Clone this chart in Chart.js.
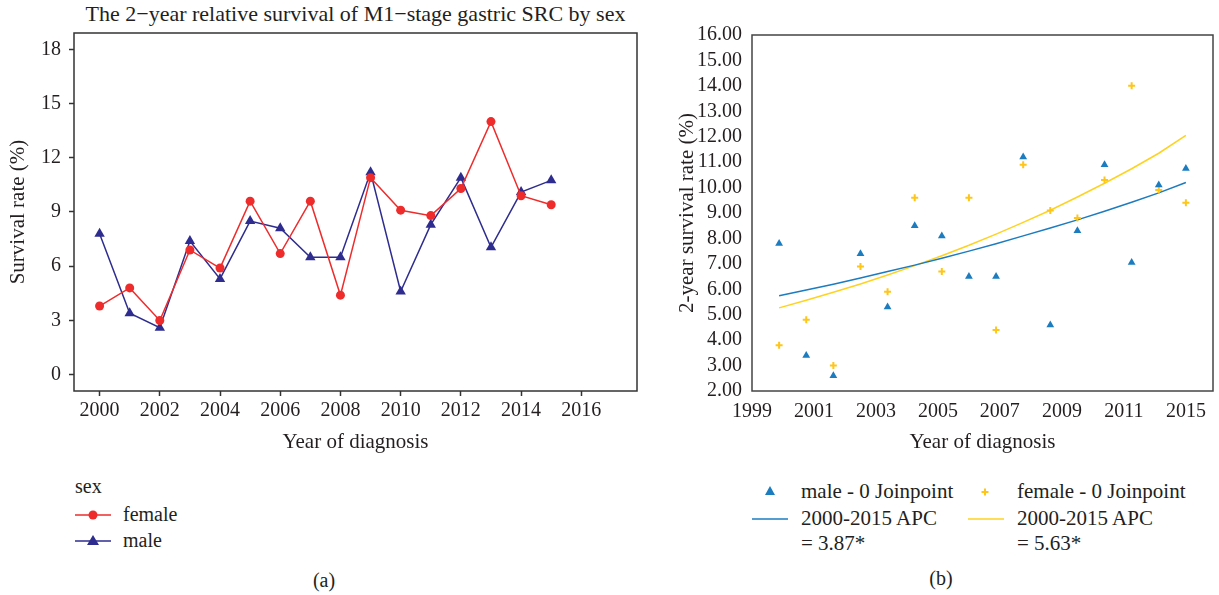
<!DOCTYPE html>
<html lang="en">
  <head>
    <meta charset="UTF-8" />
    <title>2-year relative survival of M1-stage gastric SRC by sex</title>
    <script src="https://cdn.jsdelivr.net/npm/chart.js"></script>
    <style>
      body {
        margin: 0;
        width: 1219px;
        height: 595px;
        position: relative;
        overflow: hidden;
        background: #fff;
        color: #231f20;
        font-family: "Liberation Serif", serif;
        font-size: 20px;
        line-height: 24px;
      }
      .abs { position: absolute; white-space: nowrap; }
      .title { left: 74px; width: 563px; top: 2px; text-align: center; font-size: 22px; }
      .cap { width: 60px; text-align: center; }
      .lgb { font-size: 21px; }
      svg { display: block; }
    </style>
  </head>
  <body>
    <div class="abs title">The 2−year relative survival of M1−stage gastric SRC by sex</div>

    <canvas id="left" class="abs" style="left:0;top:0" width="645" height="465"></canvas>
    <canvas id="right" class="abs" style="left:660px;top:0" width="559" height="465"></canvas>

    <!-- legend (a) -->
    <div class="abs" style="left:75px;top:474px">sex</div>
    <svg class="abs" style="left:74px;top:503px" width="38" height="24">
      <line x1="1" y1="12" x2="37" y2="12" stroke="#ee2c2c" stroke-width="1.5" />
      <circle cx="19" cy="12" r="4.5" fill="#ee2c2c" />
    </svg>
    <div class="abs" style="left:123px;top:502px">female</div>
    <svg class="abs" style="left:74px;top:529px" width="38" height="24">
      <line x1="1" y1="12" x2="37" y2="12" stroke="#2e2d8f" stroke-width="1.5" />
      <polygon points="19,6 25,16 13,16" fill="#2e2d8f" />
    </svg>
    <div class="abs" style="left:123px;top:528px">male</div>
    <div class="abs cap" style="left:294px;top:568px">(a)</div>

    <!-- legend (b) -->
    <svg class="abs" style="left:763px;top:484px" width="14" height="14">
      <polygon points="7,2 12,11 2,11" fill="#1b7cc0" />
    </svg>
    <div class="abs lgb" style="left:801px;top:479px">male - 0 Joinpoint</div>
    <svg class="abs" style="left:752px;top:512px" width="36" height="14">
      <line x1="0" y1="7" x2="36" y2="7" stroke="#1b7cc0" stroke-width="1.5" />
    </svg>
    <div class="abs lgb" style="left:801px;top:506px">2000-2015 APC</div>
    <div class="abs lgb" style="left:801px;top:531px">= 3.87*</div>

    <svg class="abs" style="left:978px;top:485px" width="14" height="14">
      <line x1="7" y1="3.5" x2="7" y2="10.5" stroke="#ffc61a" stroke-width="2" />
      <line x1="3.5" y1="7" x2="10.5" y2="7" stroke="#ffc61a" stroke-width="2" />
    </svg>
    <div class="abs lgb" style="left:1017px;top:479px">female - 0 Joinpoint</div>
    <svg class="abs" style="left:968px;top:512px" width="36" height="14">
      <line x1="0" y1="7" x2="36" y2="7" stroke="#ffd21f" stroke-width="1.5" />
    </svg>
    <div class="abs lgb" style="left:1017px;top:506px">2000-2015 APC</div>
    <div class="abs lgb" style="left:1017px;top:531px">= 5.63*</div>
    <div class="abs cap" style="left:911px;top:566px">(b)</div>

    <script>
      // data
      const years = [2000, 2001, 2002, 2003, 2004, 2005, 2006, 2007, 2008, 2009, 2010, 2011, 2012, 2013, 2014, 2015];
      const femaleRate = [3.8, 4.8, 3.0, 6.9, 5.9, 9.6, 6.7, 9.6, 4.4, 10.9, 9.1, 8.8, 10.3, 14.0, 9.9, 9.4];
      const maleRate = [7.8, 3.4, 2.6, 7.4, 5.3, 8.5, 8.1, 6.5, 6.5, 11.2, 4.6, 8.3, 10.9, 7.05, 10.1, 10.75];
      // joinpoint fitted curves (panel b)
      const maleFit = [5.75, 5.97, 6.2, 6.44, 6.7, 6.95, 7.22, 7.5, 7.79, 8.1, 8.41, 8.73, 9.07, 9.42, 9.79, 10.2];
      const femaleFit = [5.27, 5.57, 5.88, 6.21, 6.56, 6.93, 7.32, 7.73, 8.17, 8.63, 9.11, 9.63, 10.17, 10.74, 11.35, 12.05];

      const leftXTicks = [2000, 2002, 2004, 2006, 2008, 2010, 2012, 2014, 2016];
      const leftYTicks = [0, 3, 6, 9, 12, 15, 18];
      const rightYTicks = [2, 3, 4, 5, 6, 7, 8, 9, 10, 11, 12, 13, 14, 15, 16];
      const rightXTickPos = [1999, 2001.29, 2003.57, 2005.86, 2008.14, 2010.43, 2012.71, 2015];
      const rightXTickLabels = ["1999", "2001", "2003", "2005", "2007", "2009", "2011", "2015"];

      const FONT = "'Liberation Serif', serif";
      const INK = "#231f20";

      const toXY = (ys) => years.map((x, i) => ({ x: x, y: ys[i] }));

      // box round the plot area
      const frame = {
        id: "frame",
        beforeDatasetsDraw(chart, args, opts) {
          const { ctx, chartArea: a } = chart;
          ctx.save();
          ctx.strokeStyle = opts.color;
          ctx.lineWidth = opts.width;
          ctx.strokeRect(a.left, a.top, a.right - a.left, a.bottom - a.top);
          ctx.restore();
        },
      };

      new Chart(document.getElementById("left"), {
        type: "line",
        data: {
          datasets: [
            {
              label: "female",
              data: toXY(femaleRate),
              borderColor: "#ee2c2c",
              backgroundColor: "#ee2c2c",
              borderWidth: 1.5,
              pointStyle: "circle",
              pointRadius: 4.5,
              pointBorderWidth: 0,
              tension: 0,
            },
            {
              label: "male",
              data: toXY(maleRate),
              borderColor: "#2e2d8f",
              backgroundColor: "#2e2d8f",
              borderWidth: 1.5,
              pointStyle: "triangle",
              pointRadius: 6,
              pointBorderWidth: 0,
              tension: 0,
            },
          ],
        },
        options: {
          responsive: false,
          animation: false,
          devicePixelRatio: 1,
          layout: { padding: { top: 33, right: 8, left: 0, bottom: 0 } },
          plugins: {
            legend: { display: false },
            tooltip: { enabled: false },
            frame: { color: "#333", width: 1.5 },
          },
          scales: {
            x: {
              type: "linear",
              min: 1999.15,
              max: 2017.85,
              afterBuildTicks: (s) => { s.ticks = leftXTicks.map((v) => ({ value: v })); },
              afterFit: (s) => { s.height = 74; },
              border: { display: false },
              grid: { display: true, drawOnChartArea: false, drawTicks: true, tickLength: 5, tickColor: "#333", tickWidth: 1.5 },
              ticks: { padding: 3, color: INK, font: { family: FONT, size: 20 }, maxRotation: 0, autoSkip: false, callback: (v) => String(v) },
              title: { display: true, text: "Year of diagnosis", color: INK, font: { family: FONT, size: 21 }, padding: { top: 0, bottom: 10 } },
            },
            y: {
              min: -0.9,
              max: 18.9,
              afterBuildTicks: (s) => { s.ticks = leftYTicks.map((v) => ({ value: v })); },
              afterFit: (s) => { s.width = 74; },
              border: { display: false },
              grid: { display: true, drawOnChartArea: false, drawTicks: true, tickLength: 5, tickColor: "#333", tickWidth: 1.5 },
              ticks: { padding: 8, color: INK, font: { family: FONT, size: 20 }, autoSkip: false, callback: (v) => String(v) },
              title: { display: true, text: "Survival rate (%)", color: INK, font: { family: FONT, size: 21 }, padding: { top: 6, bottom: 0 } },
            },
          },
        },
        plugins: [frame],
      });

      new Chart(document.getElementById("right"), {
        type: "scatter",
        data: {
          datasets: [
            {
              label: "male - 0 Joinpoint",
              data: toXY(maleRate),
              pointStyle: "triangle",
              pointRadius: 4.5,
              pointBorderWidth: 0,
              backgroundColor: "#1b7cc0",
              borderColor: "#1b7cc0",
            },
            {
              label: "female - 0 Joinpoint",
              data: toXY(femaleRate),
              pointStyle: "cross",
              pointRadius: 3.5,
              pointBorderWidth: 2,
              backgroundColor: "#ffc61a",
              borderColor: "#ffc61a",
            },
            {
              label: "2000-2015 APC = 3.87*",
              data: toXY(maleFit),
              showLine: true,
              pointRadius: 0,
              borderColor: "#1b7cc0",
              borderWidth: 1.5,
            },
            {
              label: "2000-2015 APC = 5.63*",
              data: toXY(femaleFit),
              showLine: true,
              pointRadius: 0,
              borderColor: "#ffd21f",
              borderWidth: 1.5,
            },
          ],
        },
        options: {
          responsive: false,
          animation: false,
          devicePixelRatio: 1,
          layout: { padding: { top: 35, right: 2, left: 0, bottom: 0 } },
          plugins: {
            legend: { display: false },
            tooltip: { enabled: false },
            frame: { color: "#444", width: 1.5 },
          },
          scales: {
            x: {
              type: "linear",
              min: 1999,
              max: 2016,
              afterBuildTicks: (s) => { s.ticks = rightXTickPos.map((v) => ({ value: v })); },
              afterFit: (s) => { s.height = 74; },
              border: { display: false },
              grid: { display: false, drawTicks: false },
              ticks: {
                padding: 9,
                color: INK,
                font: { family: FONT, size: 20 },
                maxRotation: 0,
                autoSkip: false,
                callback: (v, i) => rightXTickLabels[i],
              },
              title: { display: true, text: "Year of diagnosis", color: INK, font: { family: FONT, size: 21 }, padding: { top: 0, bottom: 10 } },
            },
            y: {
              min: 2,
              max: 16,
              afterBuildTicks: (s) => { s.ticks = rightYTicks.map((v) => ({ value: v })); },
              afterFit: (s) => { s.width = 92; },
              border: { display: false },
              grid: { display: false, drawTicks: false },
              ticks: { padding: 10, color: INK, font: { family: FONT, size: 20 }, autoSkip: false, callback: (v) => v.toFixed(2) },
              title: { display: true, text: "2-year survival rate (%)", color: INK, font: { family: FONT, size: 21 }, padding: { top: 15, bottom: 0 } },
            },
          },
        },
        plugins: [frame],
      });
    </script>
  </body>
</html>
